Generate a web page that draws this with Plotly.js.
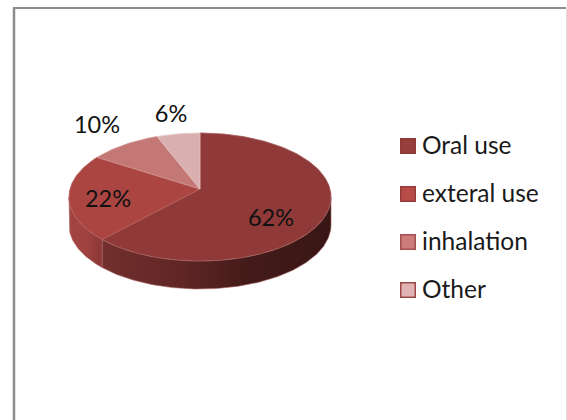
<!DOCTYPE html>
<html>
<head>
<meta charset="utf-8">
<script src="https://cdn.plot.ly/plotly-3.0.1.min.js"></script>
<style>html,body{margin:0;padding:0;background:#fff}#chart{width:567px;height:420px}</style>
</head>
<body>
<div id="chart"></div>
<script>
// Route of administration shares
const categories = ['Oral use', 'exteral use', 'inhalation', 'Other'];
const shares = [62, 22, 10, 6];

// Appearance of the tilted disc
const topColors = ['#8f3a38', '#ab4542', '#c47876', '#d9b0af'];
const edgeColors = ['#a25a58', '#b9605d', '#d09492', '#e3c4c3'];
const swatchColors = ['#973f3d', '#b84a48', '#cb7c7b', '#e0b4b3'];
const swatchEdges = ['#8f3a38', '#943b39', '#a5504e', '#9c4a48'];
const sideScales = [
  [[0, '#732f2d'], [0.35, '#5f2625'], [0.62, '#451b1a'], [1, '#381615']],
  [[0, '#a24542'], [0.5, '#a04240'], [1, '#8a3836']]
];
const labelAnchors = [[271, 220], [108, 201], [97, 127], [171, 116]];
const disc = {cx: 200, cy: 189, rx: 130, ry: 63, tilt: 0.125, depth: 28};
const key = {x: 408, textX: 422, y: 146, textDrop: 2, step: 48, font: 24.5};
const labelFontSize = 23.5;

// Perspective projection of a point on the unit disc; angle runs clockwise from 12 o'clock
function project(angle, r) {
  const across = Math.sin(angle) * r;
  const down = -Math.cos(angle) * r;
  const w = 1 - disc.tilt * down;
  return [disc.cx + disc.rx * across / w, disc.cy + disc.ry * down / w, down];
}

const total = shares.reduce((a, b) => a + b, 0);
const traces = [];
const faces = [];
let running = 0;

shares.forEach((share, i) => {
  const from = running / total * 2 * Math.PI;
  running += share;
  const to = running / total * 2 * Math.PI;
  const steps = Math.max(8, Math.round(share * 3));
  const arc = [];
  for (let s = 0; s <= steps; s++) arc.push(project(from + (to - from) * s / steps, 1));

  // Front wall of the disc: only the part of the rim facing the viewer
  const front = arc.filter(p => p[2] >= disc.tilt);
  if (front.length > 1) {
    const xs = front.map(p => p[0]).concat(front.map(p => p[0]).reverse());
    const ys = front.map(p => p[1]).concat(front.map(p => p[1] + disc.depth).reverse());
    traces.push({
      type: 'scatter', mode: 'lines', x: xs.concat(xs[0]), y: ys.concat(ys[0]),
      fill: 'toself', line: {width: 0.6, color: '#a86a68'},
      fillgradient: {type: 'horizontal', colorscale: sideScales[i]},
      hoverinfo: 'skip', showlegend: false
    });
  }

  // Top face of the slice
  const apex = project(0, 0);
  faces.push({
    type: 'scatter', mode: 'lines',
    x: [apex[0]].concat(arc.map(p => p[0]), apex[0]),
    y: [apex[1]].concat(arc.map(p => p[1]), apex[1]),
    fill: 'toself', fillcolor: topColors[i],
    line: {width: 0.8, color: edgeColors[i]},
    name: categories[i], hoverinfo: 'name', showlegend: false
  });
});

// Percentage labels
const percentLabels = {
  type: 'scatter', mode: 'text',
  x: labelAnchors.map(a => a[0]), y: labelAnchors.map(a => a[1]),
  text: shares.map(v => v + '%'),
  textposition: 'middle center',
  textfont: {family: 'Lato, Carlito, sans-serif', size: labelFontSize, color: '#111'},
  hoverinfo: 'skip', showlegend: false
};

// Key to the slices, on the right
const keyRows = categories.map((_, i) => key.y + i * key.step);
const keySwatches = {
  type: 'scatter', mode: 'markers',
  x: categories.map(() => key.x), y: keyRows,
  marker: {symbol: 'square', size: 14.5, color: swatchColors, line: {width: 1.5, color: swatchEdges}},
  hoverinfo: 'skip', showlegend: false
};
const keyLabels = {
  type: 'scatter', mode: 'text',
  x: categories.map(() => key.textX), y: keyRows.map(y => y + key.textDrop),
  text: categories,
  textposition: 'middle right',
  textfont: {family: 'Lato, Carlito, sans-serif', size: key.font, color: '#1a1a1a'},
  hoverinfo: 'skip', showlegend: false
};

const layout = {
  width: 567, height: 420,
  margin: {l: 0, r: 0, t: 0, b: 0},
  paper_bgcolor: '#fff', plot_bgcolor: '#fff',
  showlegend: false,
  xaxis: {range: [0, 567], visible: false, fixedrange: true},
  yaxis: {range: [420, 0], visible: false, fixedrange: true},
  shapes: [
    {type: 'line', x0: 14, x1: 14, y0: 7.5, y1: 420, line: {color: '#8c8c8c', width: 2.5}},
    {type: 'line', x0: 13, x1: 566, y0: 8, y1: 8, line: {color: '#8c8c8c', width: 2}},
    {type: 'line', x0: 566.5, x1: 566.5, y0: 9, y1: 420, line: {color: '#dcdcdc', width: 1}}
  ]
};

Plotly.newPlot('chart', traces.concat(faces, percentLabels, keySwatches, keyLabels), layout, {staticPlot: true, displayModeBar: false});
</script>
</body>
</html>
